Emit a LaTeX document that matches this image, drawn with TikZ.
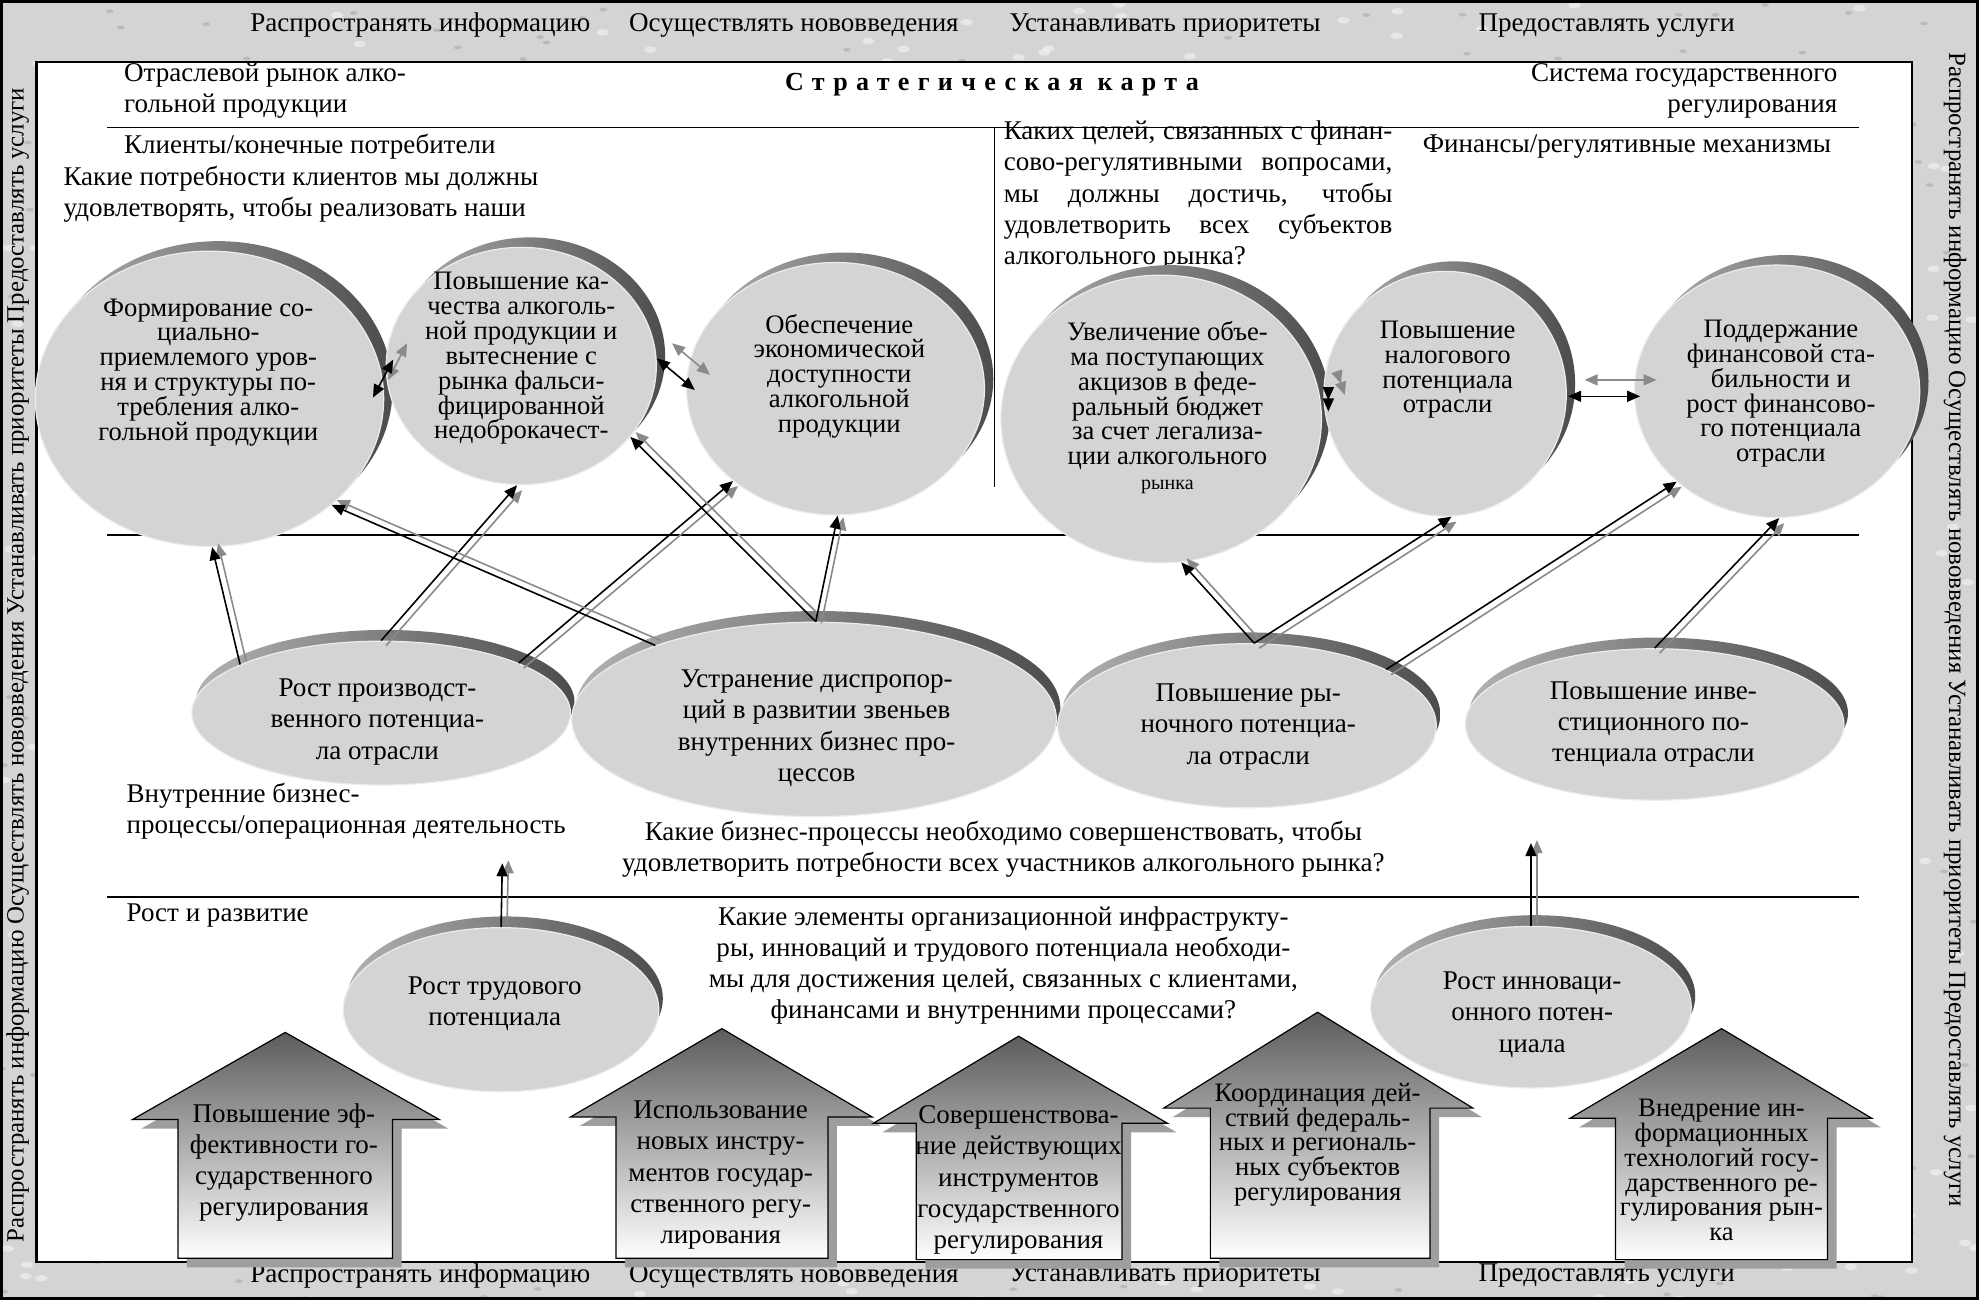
\documentclass[tikz,border=0pt]{standalone}
\usepackage{fontspec}
\setmainfont{Liberation Serif}
\usetikzlibrary{positioning,arrows.meta,calc,shapes.geometric}
\definecolor{bandgray}{HTML}{D4D4D4}
\definecolor{discfill}{HTML}{D4D4D4}
\definecolor{rimlight}{HTML}{B2B2B2}
\definecolor{rimdark}{HTML}{4C4C4C}
\definecolor{arrowgray}{HTML}{8A8A8A}
\newcommand\bodyfont{\fontsize{13.5}{15.6}\selectfont}
\newcommand\discfont{\fontsize{13.3}{12.4}\selectfont}
\newcommand\bandfont{\fontsize{12.4}{14}\selectfont}
\tikzset{
    every node/.style={font=\bodyfont,inner sep=0pt},
    sz/.style 2 args={minimum width=#1*1.26pt,minimum height=#2*1.26pt},
    rim/.style={preaction={draw=none,left color=rimlight,right color=rimdark,transform canvas={shift={#1}}}},
    goal/.style={ellipse,rim={(4.4pt,5pt)},fill=discfill,draw=white!55!discfill,line width=0.6pt},
    disc/.style={ellipse,rim={(2pt,5.6pt)},fill=discfill,draw=white!55!discfill,line width=0.6pt},
    goaltxt/.style={align=center,font=\discfont},
    disctxt/.style={align=center},
    house/.style={draw,line width=0.6pt,top color=black!64,bottom color=white,
        preaction={fill=black!38,transform canvas={shift={(4.5pt,-4.5pt)}}}},
    link/.style={-{Triangle[length=6.5pt,width=5.5pt]},line width=0.8pt},
    ghost/.style={link,arrowgray,transform canvas={shift={#1}}},
    dlink/.style={{Triangle[length=6.5pt,width=5.5pt]}-{Triangle[length=6.5pt,width=5.5pt]},line width=0.8pt}
}

\begin{document}
\begin{tikzpicture}[x=0.63pt,y=-0.63pt]
    \useasboundingbox (0,0) rectangle (1568,1030);
    % frame and bands
    \fill[bandgray] (0,0) rectangle (1568,1030);
    \pgfmathsetseed{7}
    \foreach \k in {1,...,700}{
        \pgfmathsetmacro\px{rnd*1568}
        \pgfmathsetmacro\py{rnd*1030}
        \fill[white,opacity=0.45] (\px,\py) ellipse (5 and 2.5);
        \pgfmathsetmacro\qx{rnd*1568}
        \pgfmathsetmacro\qy{rnd*1030}
        \fill[black,opacity=0.12] (\qx,\qy) ellipse (3 and 1.5);
    }
    \draw[line width=1.4pt] (1,1) rectangle (1567,1029);
    \draw[line width=1.2pt,fill=white] (29,49) rectangle (1515,1000);
    \node (topinfo) at (333,20) {Распространять информацию};
    \node (topnew) at (629,20) {Осуществлять нововведения};
    \node (topprio) at (923,20) {Устанавливать приоритеты};
    \node (topserv) at (1273,20) {Предоставлять услуги};
    \node (botinfo) at (333,1011) {Распространять информацию};
    \node (botnew) at (629,1011) {Осуществлять нововведения};
    \node (botprio) at (923,1011) {Устанавливать приоритеты};
    \node (botserv) at (1273,1011) {Предоставлять услуги};
    \node[rotate=90,font=\bandfont] (leftband) at (14,527) {Распространять информацию Осуществлять нововведения Устанавливать приоритеты Предоставлять услуги};
    \node[rotate=-90,font=\bandfont] (rightband) at (1549,499) {Распространять информацию Осуществлять нововведения Устанавливать приоритеты Предоставлять услуги};

    % dividers
    \draw[line width=0.9pt] (85,101) -- (1473,101);
    \draw[line width=0.9pt] (85,424) -- (1473,424);
    \draw[line width=0.9pt] (85,711) -- (1473,711);
    \draw[line width=0.9pt] (788,101) -- (788,386);

    % headings and questions
    \node[anchor=west,align=left] (market) at (98,72) {Отраслевой рынок алко-\\гольной продукции};
    \node (title) at (786,67) {\fontsize{13}{15}\selectfont\bfseries\addfontfeature{LetterSpace=32}Стратегическая карта};
    \node[anchor=east,align=right] (govsys) at (1456,72) {Система государственного\\регулирования};
    \node[anchor=west] (clients) at (98,116) {Клиенты/конечные потребители};
    \node[anchor=west,align=left] (clientq) at (50,154) {Какие потребности клиентов мы должны\\удовлетворять, чтобы реализовать наши};
    \node[anchor=west,text width=194pt,align=justify] (finq) at (795,155) {Каких целей, связанных с финан-\linebreak сово-регулятивными вопросами,\linebreak мы должны достичь, чтобы\linebreak удовлетворить всех субъектов\linebreak алкогольного рынка?};
    \node[anchor=west] (finance) at (1127,116) {Финансы/регулятивные механизмы};
    \node[anchor=west,align=left] (inner) at (100,643) {Внутренние бизнес-\\процессы/операционная деятельность};
    \node[align=center] (innerq) at (795,673) {Какие бизнес-процессы необходимо совершенствовать, чтобы\\удовлетворить потребности всех участников алкогольного рынка?};
    \node[anchor=west] (growth) at (100,725) {Рост и развитие};
    \node[align=center] (growthq) at (795,765) {Какие элементы организационной инфраструкту-\\ры, инноваций и трудового потенциала необходи-\\мы для достижения целей, связанных с клиентами,\\финансами и внутренними процессами?};

    % client and finance goals
    \node[goal,sz={138}{117}] (form) at (166,316) {};
    \node[goal,sz={107}{94}] (qual) at (413,290) {};
    \node[goal,sz={118}{100}] (afford) at (662,308) {};
    \node[goal,sz={127}{114}] (excise) at (920,332) {};
    \node[goal,sz={96}{97}] (taxpot) at (1145,312) {};
    \node[goal,sz={113}{100}] (finstab) at (1408,310) {};
    \node[goaltxt] (formtxt) at (165,295) {Формирование со-\\циально-\\приемлемого уров-\\ня и структуры по-\\требления алко-\\гольной продукции};
    \node[goaltxt] (qualtxt) at (413,284) {Повышение ка-\\чества алкоголь-\\ной продукции и\\вытеснение с\\рынка фальси-\\фицированной\\недоброкачест-};
    \node[goaltxt] (affordtxt) at (665,298) {Обеспечение\\экономической\\доступности\\алкогольной\\продукции};
    \node[goaltxt] (excisetxt) at (925,323) {Увеличение объе-\\ма поступающих\\акцизов в феде-\\ральный бюджет\\за счет легализа-\\ции алкогольного\\{\fontsize{10}{12}\selectfont рынка}};
    \node[goaltxt] (taxpottxt) at (1147,293) {Повышение\\налогового\\потенциала\\отрасли};
    \node[goaltxt] (finstabtxt) at (1411,312) {Поддержание\\финансовой ста-\\бильности и\\рост финансово-\\го потенциала\\отрасли};

    % internal processes
    \node[disc,sz={150}{57}] (prodpot) at (302,565) {};
    \node[disc,sz={192}{77}] (dispro) at (645,570) {};
    \node[disc,sz={150}{65}] (mktpot) at (988,575) {};
    \node[disc,sz={150}{60}] (invpot) at (1311,574) {};
    \node[disctxt] (prodpottxt) at (299,572) {Рост производст-\\венного потенциа-\\ла отрасли};
    \node[disctxt] (disprotxt) at (647,577) {Устранение диспропор-\\ций в развитии звеньев\\внутренних бизнес про-\\цессов};
    \node[disctxt] (mktpottxt) at (989,576) {Повышение ры-\\ночного потенциа-\\ла отрасли};
    \node[disctxt] (invpottxt) at (1310,574) {Повышение инве-\\стиционного по-\\тенциала отрасли};

    % regulation tools
    \draw[house] (226,818) -- (348,887) -- (311,887) -- (311,997) -- (141,997) -- (141,887) -- (105,887) -- cycle;
    \draw[house] (572,815) -- (691,885) -- (656,885) -- (656,997) -- (488,997) -- (488,885) -- (452,885) -- cycle;
    \draw[house] (807,821) -- (925,890) -- (889,890) -- (889,998) -- (726,998) -- (726,890) -- (692,890) -- cycle;
    \draw[house] (1044,802) -- (1167,878) -- (1133,878) -- (1133,997) -- (959,997) -- (959,878) -- (922,878) -- cycle;
    \draw[house] (1364,815) -- (1483,886) -- (1448,886) -- (1448,998) -- (1280,998) -- (1280,886) -- (1244,886) -- cycle;
    \node[disctxt] (effic) at (225,921) {Повышение эф-\\фективности го-\\сударственного\\регулирования};
    \node[disctxt] (newtools) at (571,931) {Использование\\новых инстру-\\ментов государ-\\ственного регу-\\лирования};
    \node[disctxt] (curtools) at (807,935) {Совершенствова-\\ние действующих\\инструментов\\государственного\\регулирования};
    \node[goaltxt] (coord) at (1044,907) {Координация дей-\\ствий федераль-\\ных и региональ-\\ных субъектов\\регулирования};
    \node[goaltxt] (infotech) at (1364,927) {Внедрение ин-\\формационных\\технологий госу-\\дарственного ре-\\гулирования рын-\\ка};

    % learning and growth
    \node[disc,sz={125}{65}] (labpot) at (397,800) {};
    \node[disc,sz={127}{64}] (innov) at (1213,798) {};
    \node[disctxt] (labpottxt) at (392,795) {Рост трудового\\потенциала};
    \node[disctxt] (innovtxt) at (1214,804) {Рост инноваци-\\онного потен-\\циала};
    \coordinate (labtip) at (398,684);
    \coordinate (innotip) at (1213,668);

    % links between neighbouring goals
    \draw[dlink,arrowgray] ($(form.east)+(3,-15)$) -- ($(form.east)+(18,-44)$);
    \draw[dlink] ($(form.east)+(-9,-1)$) -- ($(form.east)+(7,-31)$);
    \draw[dlink,arrowgray] ($(qual.east)+(12,-18)$) -- ($(afford.west)+(19,-11)$);
    \draw[dlink] ($(qual.east)+(0,-6)$) -- ($(afford.west)+(7,1)$);
    \draw[dlink,arrowgray] ($(excise.east)+(15,-28)$) -- ($(excise.east)+(18,-19)$);
    \draw[dlink] ($(excise.east)+(5,-15)$) -- ($(excise.east)+(5,-6)$);
    \draw[dlink,arrowgray] ($(taxpot.east)+(14,-11)$) -- ($(finstab.west)+(18,-9)$);
    \draw[dlink] ($(taxpot.east)+(1,2)$) -- ($(finstab.west)+(5,4)$);

    % processes -> goals
    \draw[ghost={(3pt,1.8pt)}] (prodpot.161) -- (form.-89);
    \draw[link] (prodpot.161) -- (form.-89);
    \draw[ghost={(2.5pt,-2.5pt)}] (prodpot.90) -- (qual.-92);
    \draw[link] (prodpot.90) -- (qual.-92);
    \draw[ghost={(2.5pt,-2.5pt)}] (prodpot.20) -- (afford.-138);
    \draw[link] (prodpot.20) -- (afford.-138);
    \draw[ghost={(2.6pt,2.4pt)}] (dispro.155) -- (form.-41);
    \draw[link] (dispro.155) -- (form.-41);
    \draw[ghost={(2.6pt,2.4pt)}] (dispro.89) -- (qual.-33);
    \draw[link] (dispro.89) -- (qual.-33);
    \draw[ghost={(2.8pt,-0.8pt)}] (dispro.89) -- (afford.-89);
    \draw[link] (dispro.89) -- (afford.-89);
    \draw[ghost={(2.6pt,2pt)}] (mktpot.85) -- (excise.-82);
    \draw[link] (mktpot.85) -- (excise.-82);
    \draw[ghost={(2.5pt,-2.5pt)}] (mktpot.85) -- (taxpot.-87);
    \draw[link] (mktpot.85) -- (taxpot.-87);
    \draw[ghost={(2.5pt,-2.5pt)}] (mktpot.22) -- (finstab.-138);
    \draw[link] (mktpot.22) -- (finstab.-138);
    \draw[ghost={(2.5pt,-2.5pt)}] (invpot.90) -- (finstab.-89);
    \draw[link] (invpot.90) -- (finstab.-89);

    % growth -> processes
    \draw[ghost={(3pt,1.5pt)}] (labpot.90) -- (labtip);
    \draw[link] (labpot.90) -- (labtip);
    \draw[ghost={(3pt,1.5pt)}] (innov.90) -- (innotip);
    \draw[link] (innov.90) -- (innotip);
\end{tikzpicture}
\end{document}
